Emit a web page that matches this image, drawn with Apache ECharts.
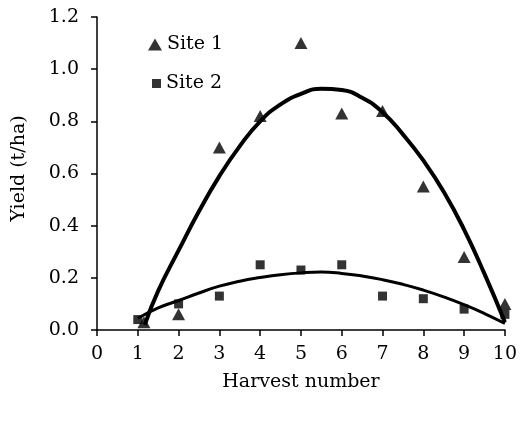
<!DOCTYPE html>
<html><head><meta charset="utf-8">
<script src="https://cdn.jsdelivr.net/npm/echarts@6/dist/echarts.min.js"></script>
<style>html,body{margin:0;padding:0;background:#fff}#c{width:520px;height:425px}</style>
</head><body><div id="c"></div>
<script>
// Observed data
const harvest1 = [1.15, 2, 3, 4, 5, 6, 7, 8, 9, 10];
const site1 = [0.03, 0.06, 0.70, 0.82, 1.10, 0.83, 0.84, 0.55, 0.28, 0.10];
const harvest2 = [1, 2, 3, 4, 5, 6, 7, 8, 9, 10];
const site2 = [0.04, 0.10, 0.13, 0.25, 0.23, 0.25, 0.13, 0.12, 0.08, 0.06];
// Trend curves
const trend1X = [1.17, 1.5, 2.0, 2.5, 3.0, 3.5, 4.0, 4.5, 5.0, 5.5, 6.0, 6.5, 7.0, 7.5, 8.0, 8.5, 9.0, 9.5, 10];
const trend1Y = [0.02, 0.15, 0.305, 0.455, 0.59, 0.705, 0.80, 0.865, 0.905, 0.925, 0.92, 0.89, 0.835, 0.75, 0.65, 0.53, 0.385, 0.215, 0.03];
const trend2X = [1.0, 1.5, 2.0, 2.5, 3.0, 3.5, 4.0, 4.5, 5.0, 5.5, 6.0, 6.5, 7.0, 7.5, 8.0, 8.5, 9.0, 9.5, 10];
const trend2Y = [0.045, 0.085, 0.113, 0.142, 0.168, 0.187, 0.201, 0.212, 0.219, 0.222, 0.217, 0.207, 0.193, 0.175, 0.153, 0.127, 0.097, 0.063, 0.025];
const xTicks = [0, 1, 2, 3, 4, 5, 6, 7, 8, 9, 10];
const yTicks = ['0.0', '0.2', '0.4', '0.6', '0.8', '1.0', '1.2'];
const seriesNames = ['Site 1', 'Site 2'];

const zip = (a, b) => a.map((v, i) => [v, b[i]]);
const FONT = 'DejaVu Serif';
const FS = 19;
const chart = echarts.init(document.getElementById('c'), null, {renderer: 'canvas'});
chart.setOption({
  animation: false,
  backgroundColor: '#fff',
  textStyle: {fontFamily: FONT, color: '#000'},
  grid: {left: 97, right: 11, top: 17, bottom: 95, containLabel: false},
  legend: [
    {data: [{name: seriesNames[0], icon: 'triangle'}], left: 148, top: 35, itemWidth: 14, itemHeight: 12,
     textStyle: {fontFamily: FONT, fontSize: FS, color: '#000'}, padding: 0},
    {data: [{name: seriesNames[1], icon: 'rect'}], left: 152, top: 74, itemWidth: 9, itemHeight: 9,
     textStyle: {fontFamily: FONT, fontSize: FS, color: '#000'}, padding: 0}
  ],
  xAxis: {
    type: 'value', min: xTicks[0], max: xTicks[xTicks.length - 1], interval: 1,
    name: 'Harvest number', nameLocation: 'middle', nameGap: 43,
    nameTextStyle: {fontFamily: FONT, fontSize: FS, color: '#000'},
    axisLine: {lineStyle: {color: '#000', width: 1.5}},
    axisTick: {show: true, length: 6, lineStyle: {color: '#000', width: 1.5}},
    axisLabel: {margin: 15, fontFamily: FONT, fontSize: FS, color: '#000'},
    splitLine: {show: false}
  },
  yAxis: {
    type: 'value', min: 0, max: 1.2, interval: 0.2,
    name: 'Yield (t/ha)', nameLocation: 'middle', nameGap: 68, nameRotate: 90,
    nameTextStyle: {fontFamily: FONT, fontSize: FS, color: '#000', padding: [0, 0, 0, 10]},
    axisLine: {show: true, lineStyle: {color: '#000', width: 1.5}},
    axisTick: {show: true, length: 6, lineStyle: {color: '#000', width: 1.5}},
    axisLabel: {margin: 18, fontFamily: FONT, fontSize: FS, color: '#000',
      formatter: v => yTicks[Math.round(v / 0.2)]},
    splitLine: {show: false}
  },
  series: [
    {name: seriesNames[0] + ' trend', type: 'line', data: zip(trend1X, trend1Y), smooth: 0.5,
     showSymbol: false, lineStyle: {color: '#000', width: 4}, z: 2},
    {name: seriesNames[1] + ' trend', type: 'line', data: zip(trend2X, trend2Y), smooth: 0.5,
     showSymbol: false, lineStyle: {color: '#000', width: 3}, z: 2},
    {name: seriesNames[0], type: 'scatter', data: zip(harvest1, site1), symbol: 'triangle',
     symbolSize: [13, 12], itemStyle: {color: '#000'}, z: 3},
    {name: seriesNames[1], type: 'scatter', data: zip(harvest2, site2), symbol: 'rect',
     symbolSize: 9, itemStyle: {color: '#000'}, z: 3}
  ]
});
</script>
</body></html>
